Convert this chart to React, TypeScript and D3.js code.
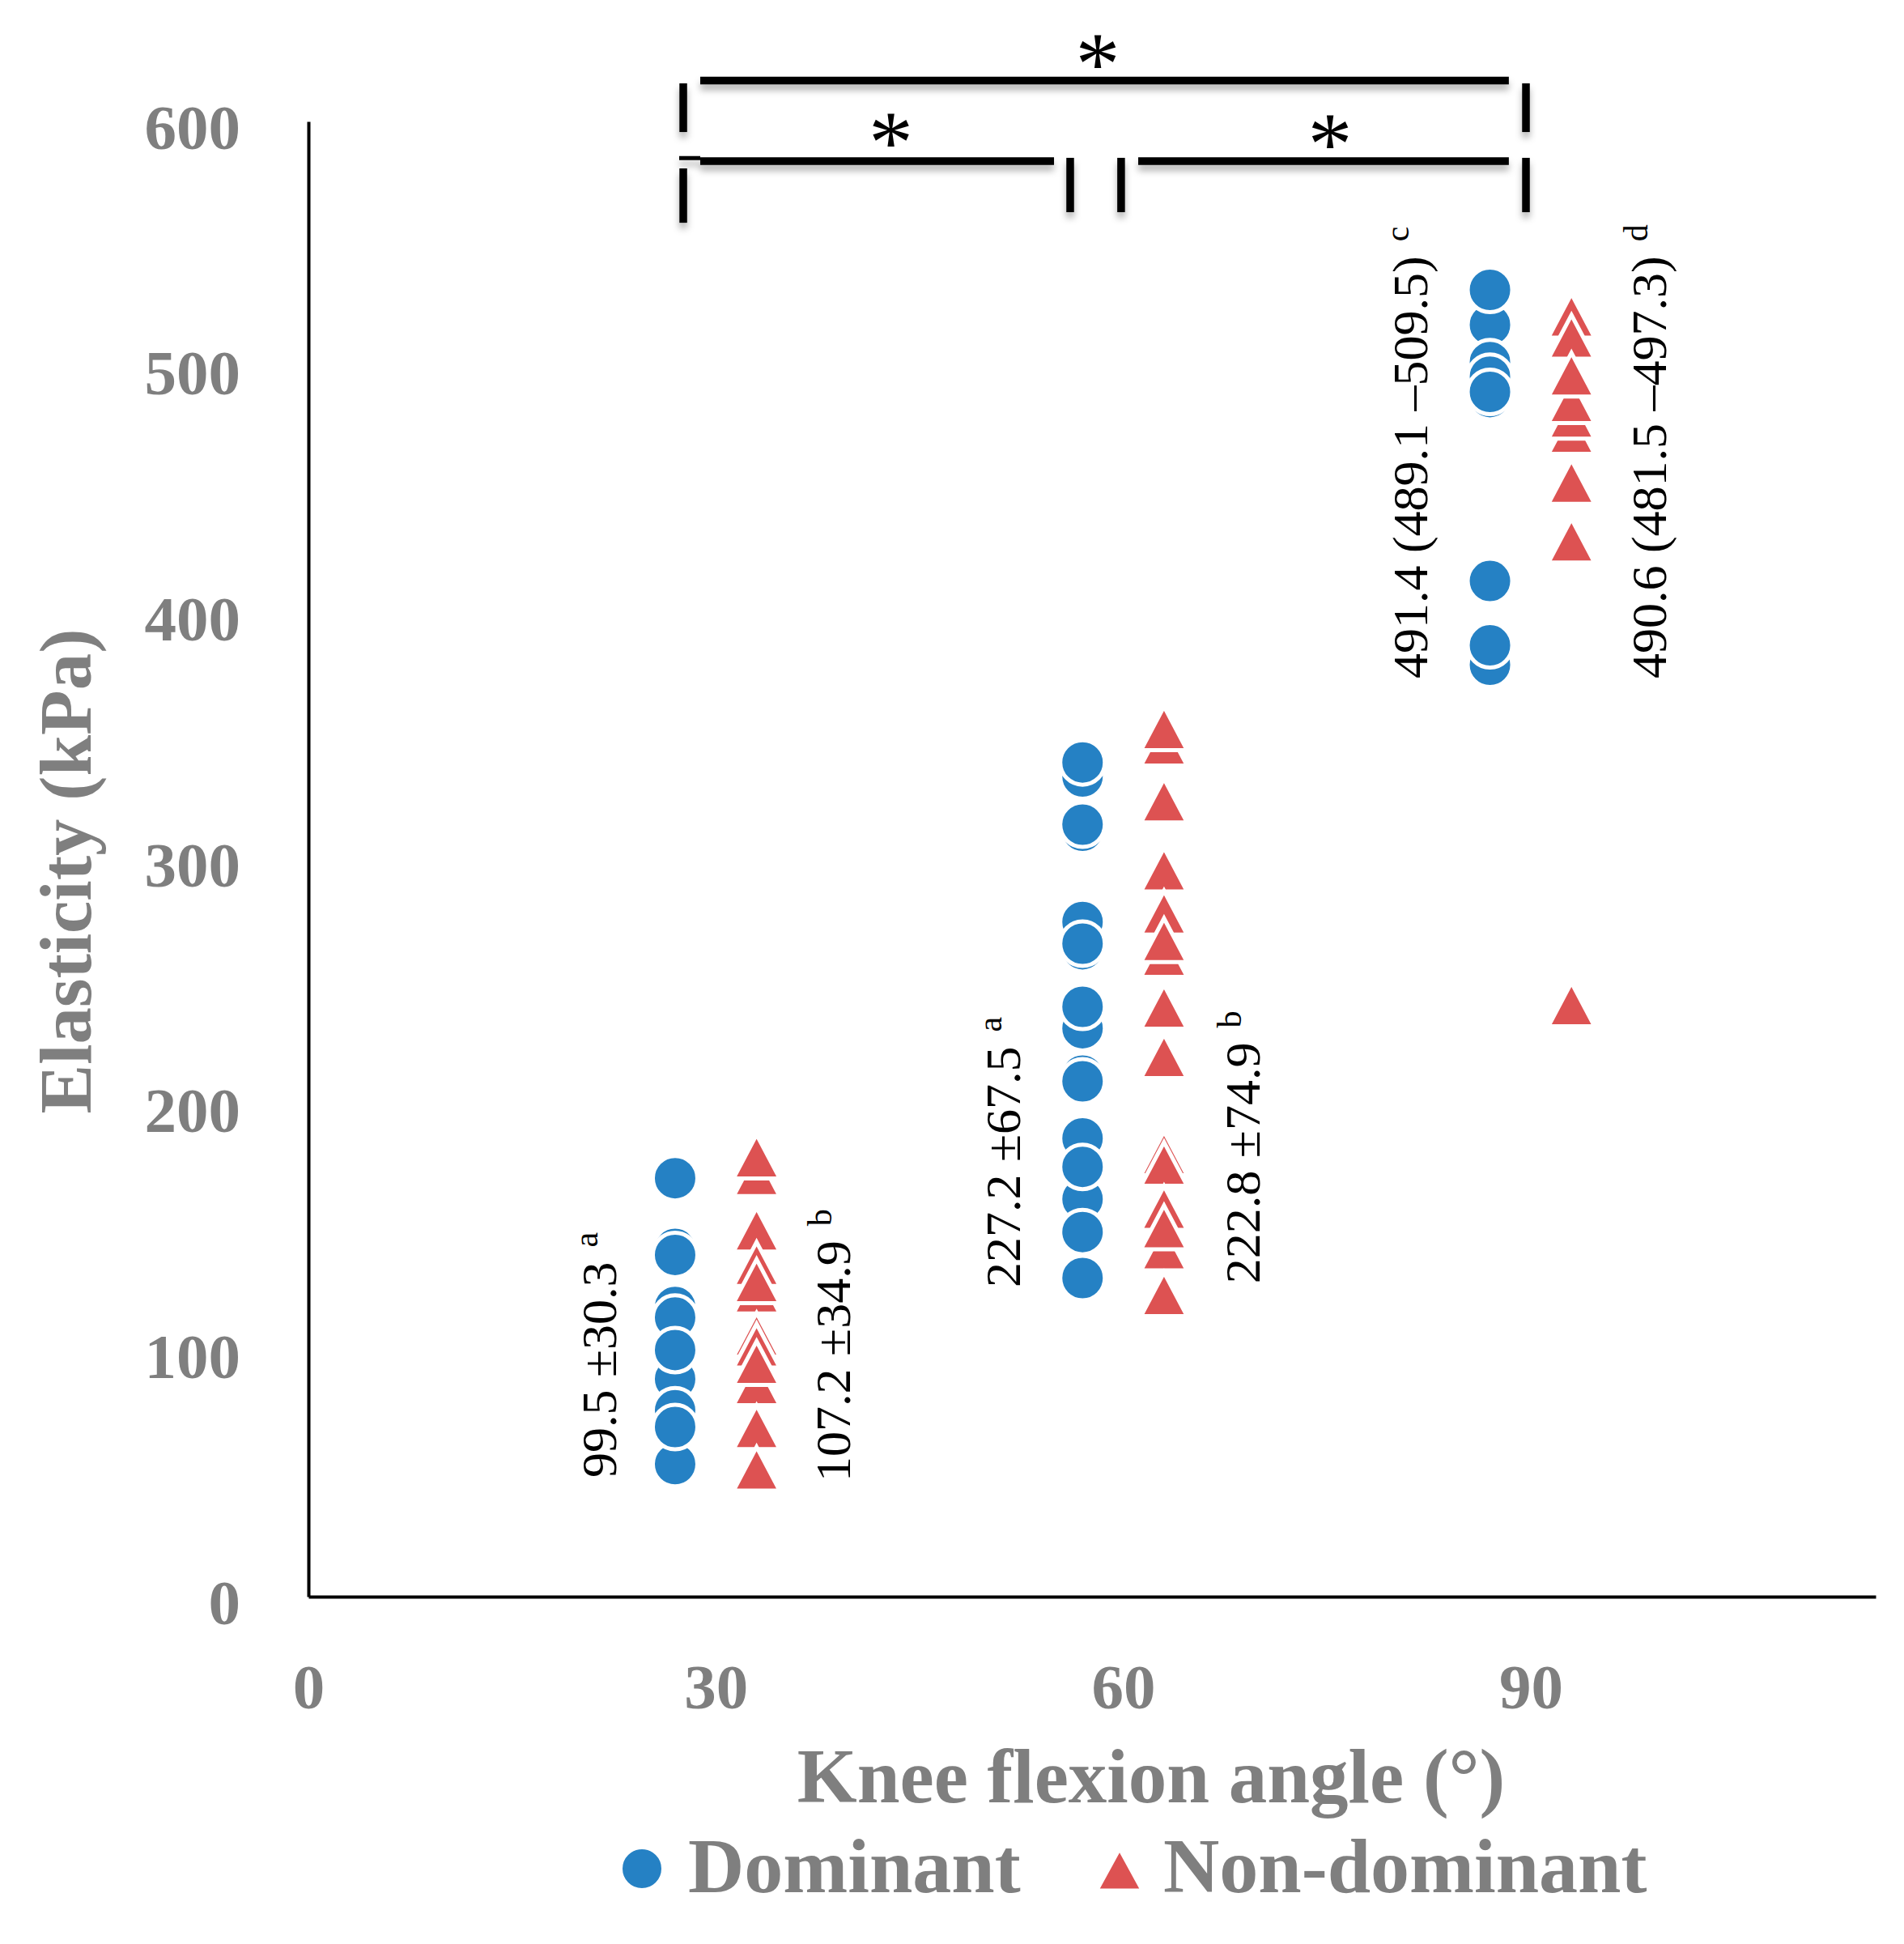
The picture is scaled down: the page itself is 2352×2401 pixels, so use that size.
import React from "react";
import * as d3 from "d3";

// Tick values
const angleTicks = [0, 30, 60, 90];
const elasticityTicks = [0, 100, 200, 300, 400, 500, 600];

// x positions of each group (offset either side of 30/60/90)
const dominantAngles = [27, 57, 87];
const nonDominantAngles = [33, 63, 93];

// Elasticity (kPa) of each subject, listed in drawing order
const dominant30 = [141.4, 139.0, 117.8, 88.5, 113.5, 100.3, 75.8, 53.9, 69.0, 170.2];
const dominant60 = [333.6, 339.3, 311.5, 314.0, 274.4, 263.3, 265.6, 231.2, 239.9, 211.9, 209.6, 186.4, 161.7, 174.8, 148.3, 129.6];
const dominant90 = [517.3, 531.5, 502.1, 496.2, 487.9, 490.0, 413.1, 379.0, 386.9];
const nonDominant30 = [171.3, 178.5, 148.8, 123.6, 134.8, 127.8, 106.0, 101.6, 86.3, 94.5, 68.4, 51.5];
const nonDominant60 = [346.4, 352.7, 323.3, 295.2, 277.7, 260.5, 266.5, 239.4, 219.3, 179.8, 175.5, 157.6, 141.1, 149.7, 122.5];
const nonDominant90 = [520.5, 511.9, 473.2, 479.4, 485.7, 496.5, 452.9, 429.0, 240.4];

const seriesNames = ["Dominant", "Non-dominant"];

// Summary labels written beside each group
const summaryTexts = [
    "99.5 \u00b130.3",
    "107.2 \u00b134.9",
    "227.2 \u00b167.5",
    "222.8 \u00b174.9",
    "491.4 (489.1 \u2013509.5)",
    "490.6 (481.5 \u2013497.3)",
];
const summaryLetters = ["a", "b", "a", "b", "c", "d"];

// Layout of the annotations in data units [angle, kPa]
const summaryAnchors = [
    [22.65, 48.4],
    [39.88, 46.8],
    [52.39, 125.8],
    [70.04, 127.4],
    [82.37, 373.4],
    [99.96, 373.4],
];
// [x1, y1, x2, y2, stroke width]
const bracketLines = [
    [28.85, 616.6, 88.39, 616.6, 9.5],
    [27.6, 615.5, 27.6, 595.7, 9.5],
    [89.65, 615.5, 89.65, 595.7, 9.5],
    [27.3, 585.1, 28.85, 585.1, 5],
    [28.85, 583.9, 54.9, 583.9, 9.5],
    [27.6, 580.9, 27.6, 558.8, 9.5],
    [56.09, 585.2, 56.09, 563.1, 9.5],
    [59.84, 585.2, 59.84, 563.1, 9.5],
    [61.1, 583.9, 88.39, 583.9, 9.5],
    [89.65, 585.2, 89.65, 563.1, 9.5],
];
const asterisks = [
    [58.12, 627.0],
    [42.89, 594.9],
    [75.22, 594.4],
];

const WIDTH = 2352;
const HEIGHT = 2401;
const X_MAX = 115.4;
const plot = { left: 381, right: 2317, top: 150, bottom: 1972 };

const BLUE = "#2581c4";
const RED = "#dd5252";
const GRAY = "#7f7f7f";
const SERIF = "'Liberation Serif', 'Times New Roman', serif";

const trianglePath = (w: number, h: number) => `M0,${-h / 2}L${w / 2},${h / 2}L${-w / 2},${h / 2}Z`;

const App = () => {
    const svgRef = React.useRef(null);

    React.useEffect(() => {
        const svg = d3.select(svgRef.current);
        svg.selectAll("*").remove();

        const xScale = d3.scaleLinear().domain([0, X_MAX]).range([plot.left, plot.right]);
        const yScale = d3.scaleLinear().domain([0, 600]).range([plot.bottom, plot.top]);

        // soft shadow used by the significance brackets
        const filter = svg
            .append("defs")
            .append("filter")
            .attr("id", "bracketShadow")
            .attr("filterUnits", "userSpaceOnUse")
            .attr("x", 0)
            .attr("y", 0)
            .attr("width", WIDTH)
            .attr("height", 500);
        filter
            .append("feDropShadow")
            .attr("dx", 0)
            .attr("dy", 7)
            .attr("stdDeviation", 4)
            .attr("flood-color", "#000")
            .attr("flood-opacity", 0.3);

        // Y axis
        const yAxis = d3.axisLeft(yScale).tickValues(elasticityTicks).tickSize(0).tickSizeOuter(0).tickPadding(84);
        const yAxisGroup = svg.append("g").attr("transform", `translate(${xScale(0)},0)`).call(yAxis);
        yAxisGroup.select(".domain").attr("stroke", "#000").attr("stroke-width", 4);
        yAxisGroup
            .selectAll("text")
            .attr("font-family", SERIF)
            .attr("font-weight", "bold")
            .attr("font-size", 79)
            .attr("fill", GRAY)
            .attr("dy", "0.42em");

        // X axis
        const xAxis = d3.axisBottom(xScale).tickValues(angleTicks).tickSize(0).tickSizeOuter(0).tickPadding(82);
        const xAxisGroup = svg.append("g").attr("transform", `translate(0,${yScale(0)})`).call(xAxis);
        xAxisGroup.select(".domain").attr("stroke", "#000").attr("stroke-width", 4);
        xAxisGroup
            .selectAll("text")
            .attr("font-family", SERIF)
            .attr("font-weight", "bold")
            .attr("font-size", 79)
            .attr("fill", GRAY);

        // Axis titles
        svg.append("text")
            .attr("transform", `translate(112,1076) rotate(-90)`)
            .attr("text-anchor", "middle")
            .attr("font-family", SERIF)
            .attr("font-weight", "bold")
            .attr("font-size", 91)
            .attr("fill", GRAY)
            .text("Elasticity (kPa)");
        svg.append("text")
            .attr("x", 1422)
            .attr("y", 2226)
            .attr("text-anchor", "middle")
            .attr("font-family", SERIF)
            .attr("font-weight", "bold")
            .attr("font-size", 95)
            .attr("fill", GRAY)
            .text("Knee flexion angle (\u00b0)");

        // Points
        const dominantPoints = [dominant30, dominant60, dominant90].flatMap((vals, i) =>
            vals.map((v) => ({ angle: dominantAngles[i], value: v }))
        );
        const nonDominantPoints = [nonDominant30, nonDominant60, nonDominant90].flatMap((vals, i) =>
            vals.map((v) => ({ angle: nonDominantAngles[i], value: v }))
        );
        svg.append("g")
            .selectAll("circle")
            .data(dominantPoints)
            .join("circle")
            .attr("cx", (d) => xScale(d.angle))
            .attr("cy", (d) => yScale(d.value))
            .attr("r", 27.5)
            .attr("fill", BLUE)
            .attr("stroke", "#fff")
            .attr("stroke-width", 5);
        svg.append("g")
            .selectAll("path")
            .data(nonDominantPoints)
            .join("path")
            .attr("transform", (d) => `translate(${xScale(d.angle)},${yScale(d.value) - 1.5})`)
            .attr("d", trianglePath(57, 54))
            .attr("fill", RED)
            .attr("stroke", "#fff")
            .attr("stroke-width", 5);

        // Summary labels
        summaryTexts.forEach((label, i) => {
            const [ax, ay] = summaryAnchors[i];
            const text = svg
                .append("text")
                .attr("transform", `translate(${xScale(ax)},${yScale(ay)}) rotate(-90)`)
                .attr("font-family", SERIF)
                .attr("font-size", 62)
                .attr("fill", "#000");
            text.append("tspan").text(label);
            text.append("tspan").attr("dx", 18).attr("dy", -23).attr("font-size", 42).text(summaryLetters[i]);
        });

        // Significance brackets
        svg.append("g")
            .attr("filter", "url(#bracketShadow)")
            .selectAll("line")
            .data(bracketLines)
            .join("line")
            .attr("x1", (d) => xScale(d[0]))
            .attr("y1", (d) => yScale(d[1]))
            .attr("x2", (d) => xScale(d[2]))
            .attr("y2", (d) => yScale(d[3]))
            .attr("stroke", "#000")
            .attr("stroke-width", (d) => d[4]);
        svg.append("g")
            .selectAll("text")
            .data(asterisks)
            .join("text")
            .attr("x", (d) => xScale(d[0]))
            .attr("y", (d) => yScale(d[1]) + 48)
            .attr("text-anchor", "middle")
            .attr("font-family", SERIF)
            .attr("font-size", 110)
            .attr("fill", "#000")
            .text("*");

        // Legend
        const legend = svg.append("g");
        legend.append("circle").attr("cx", 793).attr("cy", 2308).attr("r", 26.5).attr("fill", BLUE).attr("stroke", "#fff").attr("stroke-width", 5);
        legend.append("path").attr("transform", "translate(1383,2309)").attr("d", trianglePath(57, 52)).attr("fill", RED).attr("stroke", "#fff").attr("stroke-width", 5);
        legend
            .selectAll("text")
            .data(seriesNames)
            .join("text")
            .attr("x", (d, i) => [850, 1437][i])
            .attr("y", 2337)
            .attr("font-family", SERIF)
            .attr("font-weight", "bold")
            .attr("font-size", 96)
            .attr("fill", GRAY)
            .text((d) => d);
    }, []);

    return (
        <svg
            ref={svgRef}
            width={WIDTH}
            height={HEIGHT}
            viewBox={`0 0 ${WIDTH} ${HEIGHT}`}
            style={{ position: "absolute", left: 0, top: 0, background: "#fff" }}
        />
    );
};

export default App;
